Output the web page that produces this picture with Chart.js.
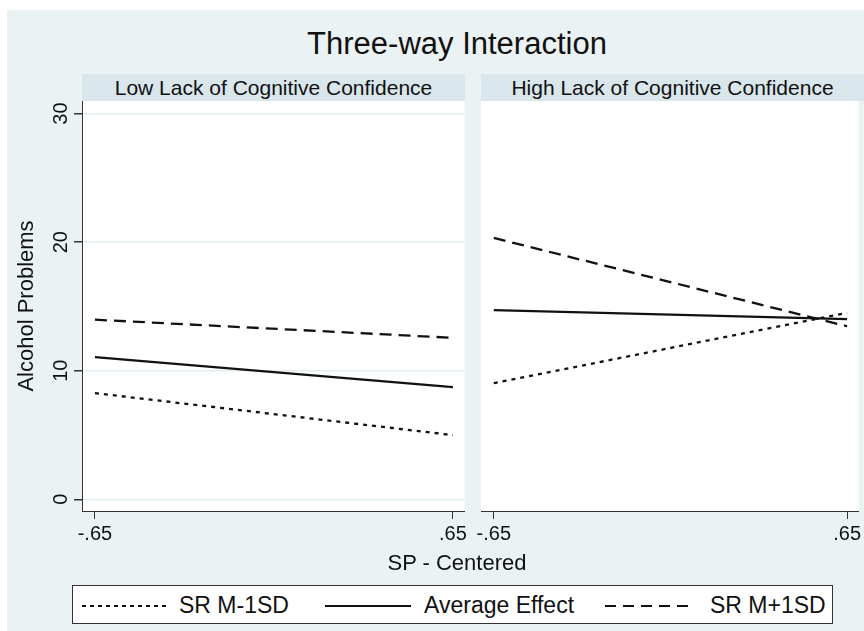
<!DOCTYPE html>
<html>
<head>
<meta charset="utf-8">
<script src="https://cdn.jsdelivr.net/npm/chart.js@4.4.1/dist/chart.umd.min.js"></script>
<style>
  body { margin: 0; background: #fff; font-family: "Liberation Sans", Arial, sans-serif; color: #111; }
  #page { position: relative; width: 864px; height: 631px; overflow: hidden; }
  #bg { position: absolute; left: 7px; top: 10px; width: 857px; height: 621px; background: #eaf2f3; }
  .abs { position: absolute; }
  #title { left: 0; width: 914px; top: 26px; text-align: center; font-size: 31px; line-height: 36px; }
  .hdr { top: 74px; height: 27px; background: #d9e6eb; text-align: center; font-size: 21px; line-height: 27px; }
  #xtitle { left: 0; width: 914px; top: 550px; text-align: center; font-size: 22px; line-height: 26px; }
  #legend { left: 72px; top: 585px; width: 761px; height: 39px; background: #fff; border: 1px solid #333; box-sizing: border-box; }
  .li { position: absolute; top: 0; height: 39px; display: flex; align-items: center; font-size: 23px; }
  .li svg { margin-right: 13px; }
</style>
</head>
<body>
<div id="page">
  <div id="bg"></div>
  <div id="title" class="abs">Three-way Interaction</div>
  <div class="abs hdr" style="left:82px;width:383px;">Low Lack of Cognitive Confidence</div>
  <div class="abs hdr" style="left:481px;width:383px;">High Lack of Cognitive Confidence</div>
  <div class="abs" style="left:0;top:94px;width:470px;height:466px;"><canvas id="lowChart"></canvas></div>
  <div class="abs" style="left:470px;top:94px;width:394px;height:466px;"><canvas id="highChart"></canvas></div>
  <div id="xtitle" class="abs">SP - Centered</div>
  <div id="legend" class="abs">
    <div class="li" style="left:9px;"><svg width="84" height="4"><line x1="0" y1="2" x2="84" y2="2" stroke="#111" stroke-width="2" stroke-dasharray="4 4"/></svg>SR M-1SD</div>
    <div class="li" style="left:252px;"><svg width="86" height="4"><line x1="0" y1="2" x2="86" y2="2" stroke="#111" stroke-width="2"/></svg>Average Effect</div>
    <div class="li" style="left:532px;"><svg width="86" height="4" style="margin-right:19px"><line x1="0" y1="2" x2="86" y2="2" stroke="#111" stroke-width="2" stroke-dasharray="11 7"/></svg>SR M+1SD</div>
  </div>
</div>
<script>
// SP - Centered
const xValues = [-0.65, 0.65];
const xTickLabels = ['-.65', '.65'];
const yTicks = [0, 10, 20, 30];

const seriesNames = ['SR M-1SD', 'Average Effect', 'SR M+1SD'];

// Low Lack of Cognitive Confidence
const lowSRMinus = [8.26, 4.99];
const lowAverage = [11.06, 8.73];
const lowSRPlus = [13.97, 12.56];

// High Lack of Cognitive Confidence
const highSRMinus = [9.04, 14.5];
const highAverage = [14.71, 14.01];
const highSRPlus = [20.33, 13.46];

const dashes = [[4, 5], [], [12, 7]];
const fontFam = '"Liberation Sans", Arial, sans-serif';

Chart.defaults.font.family = fontFam;
Chart.defaults.color = '#111';

const whiteArea = {
  id: 'whiteArea',
  beforeDraw(chart) {
    const a = chart.chartArea, c = chart.ctx;
    c.save();
    c.fillStyle = '#fff';
    c.fillRect(a.left, a.top, a.right - a.left, a.bottom - a.top);
    c.restore();
  }
};

// stata style y labels, turned to read upwards
const yLabels = {
  id: 'yLabels',
  afterDraw(chart) {
    const y = chart.scales.y;
    if (!y.options.display) return;
    const c = chart.ctx;
    c.save();
    c.font = '20px ' + fontFam;
    c.fillStyle = '#111';
    c.textAlign = 'center';
    c.textBaseline = 'middle';
    yTicks.forEach(v => {
      c.save();
      c.translate(61, y.getPixelForValue(v));
      c.rotate(-Math.PI / 2);
      c.fillText(String(v), 0, 0);
      c.restore();
    });
    c.restore();
  }
};

function makeDatasets(vals) {
  return vals.map((arr, i) => ({
    label: seriesNames[i],
    data: arr.map((v, j) => ({ x: xValues[j], y: v })),
    borderColor: '#111',
    borderWidth: 2.3,
    borderDash: dashes[i],
    pointRadius: 0,
    fill: false,
    tension: 0
  }));
}

function makeChart(id, vals, showY, padding) {
  return new Chart(document.getElementById(id), {
    type: 'line',
    data: { datasets: makeDatasets(vals) },
    plugins: [whiteArea, yLabels],
    options: {
      responsive: true,
      maintainAspectRatio: false,
      animation: false,
      layout: { padding: padding },
      plugins: { legend: { display: false }, tooltip: { enabled: false } },
      scales: {
        x: {
          type: 'linear',
          min: -0.697,
          max: 0.692,
          afterBuildTicks: s => { s.ticks = xValues.map(v => ({ value: v })); },
          afterFit: s => { s.height = 49; },
          ticks: {
            callback: (v, i) => xTickLabels[i],
            font: { size: 20 },
            padding: 3,
            maxRotation: 0
          },
          grid: { drawOnChartArea: false, tickColor: '#333', tickLength: 8 },
          border: { display: true, color: '#333', width: 1 }
        },
        y: {
          display: showY,
          min: -0.91,
          max: 30.98,
          afterBuildTicks: s => { s.ticks = yTicks.map(v => ({ value: v })); },
          afterFit: s => { s.width = showY ? 82 : 0; },
          title: { display: true, text: 'Alcohol Problems', font: { size: 22 }, padding: { top: 14, bottom: 0 } },
          ticks: { display: false },
          grid: { color: '#e4eef1', lineWidth: 1.5, tickColor: '#333', tickLength: 8 },
          border: { display: true, color: '#333', width: 1 }
        }
      }
    }
  });
}

makeChart('lowChart', [lowSRMinus, lowAverage, lowSRPlus], true, { top: 7, right: 5, left: 0, bottom: 0 });
makeChart('highChart', [highSRMinus, highAverage, highSRPlus], false, { top: 7, right: 0, left: 11, bottom: 0 });
</script>
</body>
</html>
